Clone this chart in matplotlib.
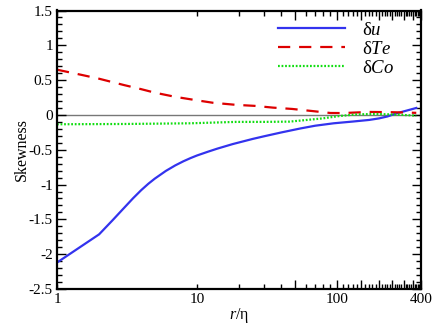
import matplotlib
matplotlib.use("Agg")
import matplotlib.pyplot as plt
import numpy as np

plt.rcParams['font.family'] = ['Liberation Serif', 'DejaVu Serif']
plt.rcParams['mathtext.fontset'] = 'custom'
plt.rcParams['mathtext.rm'] = 'Liberation Serif'
plt.rcParams['mathtext.it'] = 'Liberation Serif:italic'

# data
r_u = [1, 2, 2.5, 3, 3.5, 4, 4.5, 5, 6, 7, 8, 9, 10, 12, 14, 18, 25, 30, 40, 55, 70, 95, 130,
       170, 200, 230, 270, 370]
s_u = [-2.12, -1.715, -1.511, -1.34, -1.196, -1.08, -0.988, -0.915, -0.804, -0.725, -0.666,
       -0.62, -0.583, -0.528, -0.484, -0.419, -0.345, -0.308, -0.252, -0.194, -0.155, -0.12,
       -0.095, -0.072, -0.05, -0.022, 0.025, 0.10]
r_te = [1, 1.5, 2, 3, 4, 5, 7, 10, 13, 19, 26, 35, 48, 66, 90, 110, 130, 170, 240, 370]
s_te = [0.65, 0.575, 0.52, 0.43, 0.37, 0.32, 0.26, 0.21, 0.175, 0.145, 0.13, 0.105, 0.086,
        0.057, 0.028, 0.027, 0.033, 0.043, 0.04, 0.03]
r_co = [1, 3, 9, 19, 30, 46, 79, 105, 140, 190, 265, 370]
s_co = [-0.134, -0.13, -0.12, -0.10, -0.10, -0.096, -0.05, -0.015, 0.008, 0.014, 0.005, -0.01]

labels = ['δ$u$', 'δ$Te$', 'δ$Co$']
x_major = list(range(50, 401, 50))
x_major_labels = ['' if v not in (100, 400) else str(v) for v in x_major]
x_minor = [1] + [v for v in range(10, 400, 10) if v % 50 != 0]
x_minor_labels = ['1' if v == 1 else ('10' if v == 10 else '') for v in x_minor]

fig = plt.figure(figsize=(4.36, 3.27), dpi=100)
ax = fig.add_axes([57/436, 1-289/327, (421-57)/436, (289-10.5)/327])

ax.axhline(0, color='#777777', lw=1.0, zorder=1)
ax.plot(r_u, s_u, color='#3333ee', lw=1.6, label=labels[0])
ax.plot(r_te, s_te, color='#dd0000', lw=1.6, dashes=(5.5, 4), label=labels[1])
ax.plot(r_co, s_co, color='#11dd11', lw=1.6, dashes=(0.8, 0.8), label=labels[2])

ax.set_xscale('log')
ax.set_xlim(1, 400)
ax.set_ylim(-2.5, 1.5)
ax.set_xticks(x_major)
ax.set_xticklabels(x_major_labels)
ax.set_xticks(x_minor, minor=True)
ax.set_xticklabels(x_minor_labels, minor=True)
ax.set_yticks(np.arange(-2.5, 1.51, 0.5))
ax.set_yticklabels(['-2.5', '-2', '-1.5', '-1', '-0.5', '0', '0.5', '1', '1.5'])
ax.set_yticks(np.arange(-2.5, 1.51, 0.1), minor=True)

ax.tick_params(which='both', direction='in', top=True, right=True, labelsize=11, width=1.0, pad=3)
ax.tick_params(which='major', length=6.5)
ax.tick_params(which='minor', length=3.5)
for s in ax.spines.values():
    s.set_linewidth(1.6)

ax.set_ylabel('Skewness', fontsize=11.5, labelpad=-1)
ax.set_xlabel('$r$/η', fontsize=11.5, labelpad=0)

ax.legend(loc='upper right', frameon=False, fontsize=13.5, handlelength=3.6,
          handletextpad=0.9, labelspacing=0.1, borderaxespad=0.3,
          bbox_to_anchor=(0.963, 1.008))

fig.savefig('out.png', dpi=100)
